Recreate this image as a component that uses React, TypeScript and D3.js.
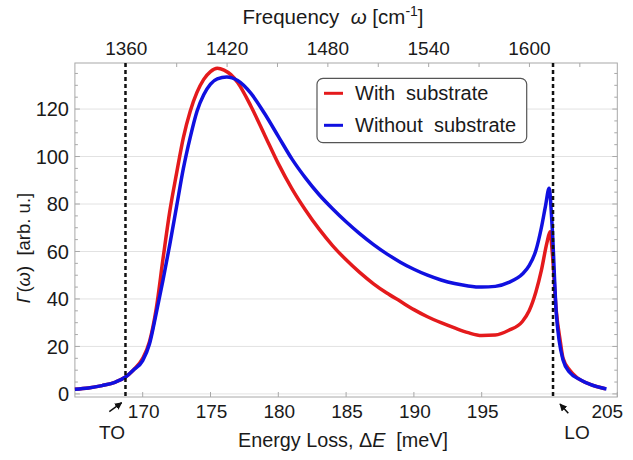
import React from "react";
import * as d3 from "d3";

// ---- data ----
const withEnergy = [165, 166, 167, 168, 168.7, 169.3, 170, 170.5, 171, 171.5, 172, 172.5, 173, 173.5, 174, 174.5, 175, 175.5, 176, 176.5, 177, 178, 179, 180, 181, 182, 183, 184, 185, 186, 187, 188, 189, 190, 191, 192, 193, 194, 195, 196, 197, 198, 198.5, 199, 199.4, 199.8, 200.04, 200.2, 200.5, 200.8, 201, 201.5, 202, 203, 204.1];
const withValues = [2.0, 2.5, 3.5, 5.0, 7.0, 10, 15, 22, 36, 57, 77, 93, 108, 119, 127, 132.5, 135.8, 137.2, 136.4, 134.5, 131.2, 121, 109, 97, 86.5, 77.5, 69.5, 62.5, 56.5, 51.2, 46.5, 42.5, 39, 35.5, 32.5, 30, 27.8, 25.8, 24.6, 24.8, 26.8, 30.5, 35, 43, 52, 63.4, 68.3, 60, 35, 22, 15, 10, 7, 4, 2.2];

const withoutEnergy = [165, 166, 167, 168, 168.7, 169.3, 170, 170.5, 171, 171.5, 172, 172.5, 173, 173.5, 174, 174.5, 175, 175.5, 176.2, 177, 178, 179, 180, 181, 182, 183, 184, 185, 186, 187, 188, 189, 190, 191, 192, 193, 194, 195, 196, 197, 198, 198.5, 199, 199.4, 199.7, 199.97, 200.2, 200.5, 201, 201.5, 202.3, 203, 204.2];
const withoutValues = [2.0, 2.5, 3.5, 5.0, 7.0, 10, 14, 21, 34, 48, 63, 79, 95, 108, 119, 126, 130.5, 132.7, 133.5, 132, 126.5, 118, 108.5, 99, 91, 84, 78, 72.5, 67.5, 63, 59, 55.5, 52.5, 50, 48, 46.5, 45.5, 45, 45.3, 47, 50.5, 54, 60.5, 70, 79, 86.6, 70, 34, 14.3, 9, 5.9, 4, 2.1];

const xTicks = [170, 175, 180, 185, 190, 195, 205];
const yTicks = [0, 20, 40, 60, 80, 100, 120];
const yMinorTicks = d3.range(0, 140, 5);
const freqLabels = [1360, 1420, 1480, 1540, 1600];
const freqTicks = d3.range(1360, 1640, 30);
const TO = 168.73;
const LO = 200.26;

const seriesNames = ["With  substrate", "Without  substrate"];
const seriesColors = ["#e41a1c", "#1010e0"];

export default function App() {
  const W = 633, H = 460;
  const left = 74.9, right = 617.3, top = 63, bottom = 397;
  const x = d3.scaleLinear().domain([165, 205]).range([left, right]);
  const xf = d3.scaleLinear().domain([1329.4, 1652.3]).range([left, right]);
  const y = d3.scaleLinear().domain([-1.3, 139.4]).range([bottom, top]);

  const line = d3
    .line<[number, number]>()
    .x((d) => x(d[0]))
    .y((d) => y(d[1]))
    .curve(d3.curveMonotoneX);

  const withPts = withEnergy.map((e, i) => [e, withValues[i]] as [number, number]);
  const withoutPts = withoutEnergy.map((e, i) => [e, withoutValues[i]] as [number, number]);

  const font = "'Liberation Sans', Arial, sans-serif";
  const textColor = "#1a1a1a";
  const frame = "#a8a8a8";

  return (
    <svg width={W} height={H} style={{ position: "absolute", left: 0, top: 0, background: "#fff" }} fontFamily={font}>
      <defs>
        <marker id="arr" viewBox="0 0 10 10" refX="9" refY="5" markerWidth="5" markerHeight="5" orient="auto-start-reverse">
          <path d="M0,0 L10,5 L0,10 z" fill="#111" />
        </marker>
      </defs>
      <rect x={0} y={0} width={W} height={H} fill="#fff" />
      {yTicks.map((t) => (
        <line key={"g" + t} x1={left} x2={right} y1={y(t)} y2={y(t)} stroke="#e2e2e2" strokeWidth={1} />
      ))}
      {yMinorTicks.map((t) => {
        const major = t % 20 === 0;
        const len = major ? 5 : 3;
        return (
          <g key={"yt" + t}>
            <line x1={left} x2={left + len} y1={y(t)} y2={y(t)} stroke={frame} />
            <line x1={right} x2={right - len} y1={y(t)} y2={y(t)} stroke={frame} />
          </g>
        );
      })}
      {xTicks.map((t) => (
        <line key={"xt" + t} x1={x(t)} x2={x(t)} y1={bottom} y2={bottom - 5} stroke={frame} />
      ))}
      {freqTicks.map((t) => (
        <line key={"ft" + t} x1={xf(t)} x2={xf(t)} y1={top} y2={top + 4} stroke={frame} />
      ))}
      <rect x={left} y={top} width={right - left} height={bottom - top} fill="none" stroke={frame} strokeWidth={1} />

      <path d={line(withPts) || ""} fill="none" stroke={seriesColors[0]} strokeWidth={3.5} strokeLinejoin="round" />
      <path d={line(withoutPts) || ""} fill="none" stroke={seriesColors[1]} strokeWidth={3.5} strokeLinejoin="round" />

      {[TO, LO].map((e) => (
        <line key={"v" + e} x1={x(e)} x2={x(e)} y1={top} y2={bottom} stroke="#111" strokeWidth={2.5} strokeDasharray="4 3" />
      ))}

      {yTicks.map((t) => (
        <text key={"yl" + t} x={69} y={y(t)} dy="0.36em" textAnchor="end" fontSize={20} fill={textColor}>
          {t}
        </text>
      ))}
      {xTicks.map((t) => (
        <text key={"xl" + t} x={t === 205 ? x(t) - 10 : x(t) + 1} y={417.5} textAnchor="middle" fontSize={19} fill={textColor}>
          {t}
        </text>
      ))}
      {freqLabels.map((t) => (
        <text key={"fl" + t} x={xf(t)} y={55} textAnchor="middle" fontSize={19} fill={textColor}>
          {t}
        </text>
      ))}

      <text x={333} y={24} textAnchor="middle" fontSize={20.5} fill={textColor} style={{ whiteSpace: "pre" }}>
        {"Frequency  "}
        <tspan fontStyle="italic">ω</tspan>
        {" [cm"}
        <tspan fontSize={14} dy={-8}>-1</tspan>
        <tspan dy={8}>]</tspan>
      </text>
      <text x={343} y={447} textAnchor="middle" fontSize={19.8} fill={textColor} style={{ whiteSpace: "pre" }}>
        {"Energy Loss, Δ"}
        <tspan fontStyle="italic">E</tspan>
        {"  [meV]"}
      </text>
      <text transform="translate(30,248) rotate(-90)" textAnchor="middle" fontSize={18.5} fill={textColor} style={{ whiteSpace: "pre" }}>
        <tspan fontStyle="italic">Γ</tspan>
        {"("}
        <tspan fontStyle="italic">ω</tspan>
        {")  [arb. u.]"}
      </text>

      <line x1={109.3} y1={411.7} x2={121.7} y2={402.7} stroke="#111" strokeWidth={1.5} markerEnd="url(#arr)" />
      <text x={112} y={439} textAnchor="middle" fontSize={19} fill={textColor}>TO</text>
      <line x1={568.3} y1={413.3} x2={560} y2={404} stroke="#111" strokeWidth={1.5} markerEnd="url(#arr)" />
      <text x={577} y={439} textAnchor="middle" fontSize={19} fill={textColor}>LO</text>

      <rect x={317} y={78.3} width={209.7} height={64.4} rx={6} fill="#fff" stroke="#555" strokeWidth={1.2} />
      {seriesNames.map((n, i) => (
        <g key={n}>
          <line x1={324} x2={343} y1={93.3 + i * 32} y2={93.3 + i * 32} stroke={seriesColors[i]} strokeWidth={3} />
          <text x={355} y={99.5 + i * 32} fontSize={20} fill={textColor} style={{ whiteSpace: "pre" }}>
            {n}
          </text>
        </g>
      ))}
    </svg>
  );
}
